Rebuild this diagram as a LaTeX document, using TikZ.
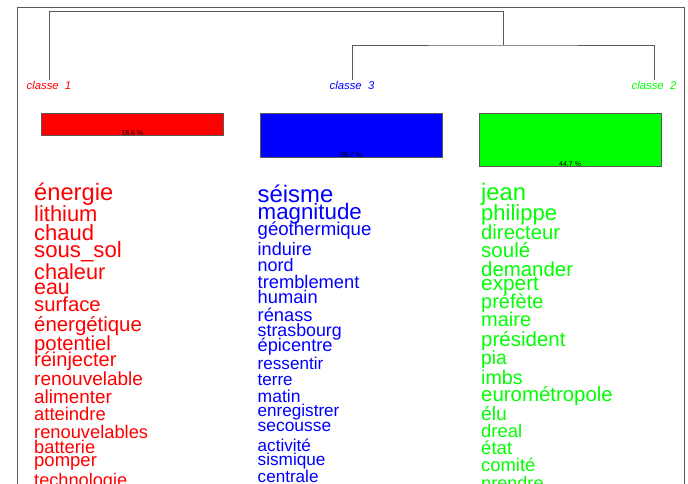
\documentclass[tikz,border=0pt]{standalone}
\usepackage{fontspec}
\setmainfont{Liberation Sans}
\usepackage{xcolor}
\usepackage{tikz}
\usetikzlibrary{positioning}
\definecolor{clred}{HTML}{FF0000}
\definecolor{clblue}{HTML}{0000FF}
\definecolor{clgreen}{HTML}{00FF00}
\newcommand{\wordsize}[1]{\fontsize{#1}{#1}\selectfont}

\begin{document}
\begin{tikzpicture}[
  x=1pt, y=-1pt,
  frame/.style={draw=black!65, line width=0.8pt},
  tree/.style={draw=black!65, line width=0.8pt},
  leaf/.style={anchor=base, inner sep=0.6pt, font=\wordsize{11.3}\itshape},
  bar/.style={draw=black!65, line width=0.7pt, anchor=north west, minimum width=182.5pt,
    inner sep=0},
  pct/.style={anchor=base, inner sep=0, font=\wordsize{7}},
  word/.style={anchor=base west, inner sep=0, font=\wordsize{#1}}
]
  \useasboundingbox (0,0) rectangle (688,483);
  \clip (0,0) rectangle (688,483);
  \draw[frame] (17,7) rectangle (684,500);

  % Dendrogram
  \node[leaf, text=clred] (c1) at (49,89) {classe\ \ 1};
  \node[leaf, text=clblue] (c3) at (352,89) {classe\ \ 3};
  \node[leaf, text=clgreen] (c2) at (654,89) {classe\ \ 2};
  \coordinate (root) at (503,11);
  \coordinate (sub) at (503,45);
  \draw[tree] (c1.north) |- (root) -- (sub);
  \draw[tree] (c3.north) |- (sub) -| (c2.north);

  % Bars
  \node[bar, fill=clred, minimum height=22pt] (bar1) at (40.7,113) {};
  \node[bar, fill=clblue, minimum height=44pt] (bar3) at (259.5,113) {};
  \node[bar, fill=clgreen, minimum height=53pt] (bar2) at (478.5,113) {};
  \node[pct] (p1) at ([yshift=0.3pt]bar1.south) {18.6 \%};
  \node[pct] (p3) at ([yshift=0.3pt]bar3.south) {36.7 \%};
  \node[pct] (p2) at ([yshift=0.3pt]bar2.south) {44.7 \%};

  % Words, classe 1
  \node[word=23.7, text=clred] (r1) at (34,200.7) {énergie};
  \node[word=21.9, text=clred] (r2) at (34,221.7) {lithium};
  \node[word=22.0, text=clred] (r3) at (34,240.7) {chaud};
  \node[word=22.2, text=clred] (r4) at (34,257.3) {sous\_sol};
  \node[word=21.7, text=clred] (r5) at (34,279) {chaleur};
  \node[word=21.4, text=clred] (r6) at (34,294) {eau};
  \node[word=20.3, text=clred] (r7) at (34,311.7) {surface};
  \node[word=20.4, text=clred] (r8) at (34,331) {énergétique};
  \node[word=20.3, text=clred] (r9) at (34,350.7) {potentiel};
  \node[word=20.0, text=clred] (r10) at (34,366.7) {réinjecter};
  \node[word=19.0, text=clred] (r11) at (34,385.7) {renouvelable};
  \node[word=18.9, text=clred] (r12) at (34,403.3) {alimenter};
  \node[word=18.4, text=clred] (r13) at (34,420) {atteindre};
  \node[word=18.3, text=clred] (r14) at (34,438.3) {renouvelables};
  \node[word=18.3, text=clred] (r15) at (34,453) {batterie};
  \node[word=18.5, text=clred] (r16) at (34,466.7) {pomper};
  \node[word=18.2, text=clred] (r17) at (34,486) {technologie};

  % Words, classe 3
  \node[word=23.9, text=clblue] (b1) at (257.5,202.3) {séisme};
  \node[word=22.3, text=clblue] (b2) at (257.5,219.3) {magnitude};
  \node[word=18.6, text=clblue] (b3) at (257.5,235) {géothermique};
  \node[word=18.1, text=clblue] (b4) at (257.5,255) {induire};
  \node[word=18.0, text=clblue] (b5) at (257.5,271.7) {nord};
  \node[word=18.3, text=clblue] (b6) at (257.5,288.3) {tremblement};
  \node[word=18.3, text=clblue] (b7) at (257.5,303.3) {humain};
  \node[word=18.3, text=clblue] (b8) at (257.5,321.7) {rénass};
  \node[word=17.8, text=clblue] (b9) at (257.5,336) {strasbourg};
  \node[word=18.2, text=clblue] (b10) at (257.5,351.7) {épicentre};
  \node[word=17.1, text=clblue] (b11) at (257.5,369.3) {ressentir};
  \node[word=17.0, text=clblue] (b12) at (257.5,385) {terre};
  \node[word=17.5, text=clblue] (b13) at (257.5,402.3) {matin};
  \node[word=17.1, text=clblue] (b14) at (257.5,416.7) {enregistrer};
  \node[word=17.4, text=clblue] (b15) at (257.5,431.7) {secousse};
  \node[word=17.1, text=clblue] (b16) at (257.5,451.7) {activité};
  \node[word=17.2, text=clblue] (b17) at (257.5,465) {sismique};
  \node[word=17.1, text=clblue] (b18) at (257.5,482) {centrale};

  % Words, classe 2
  \node[word=23.8, text=clgreen] (g1) at (481,200) {jean};
  \node[word=22.0, text=clgreen] (g2) at (481,220) {philippe};
  \node[word=20.3, text=clgreen] (g3) at (481,239) {directeur};
  \node[word=20.5, text=clgreen] (g4) at (481,257.3) {soulé};
  \node[word=20.4, text=clgreen] (g5) at (481,276) {demander};
  \node[word=20.8, text=clgreen] (g6) at (481,290.7) {expert};
  \node[word=20.0, text=clgreen] (g7) at (481,308.3) {préfète};
  \node[word=20.0, text=clgreen] (g8) at (481,326.7) {maire};
  \node[word=20.5, text=clgreen] (g9) at (481,346) {président};
  \node[word=19.3, text=clgreen] (g10) at (481,364.3) {pia};
  \node[word=19.7, text=clgreen] (g11) at (481,384.3) {imbs};
  \node[word=20.4, text=clgreen] (g12) at (481,401) {eurométropole};
  \node[word=19.3, text=clgreen] (g13) at (481,420) {élu};
  \node[word=18.4, text=clgreen] (g14) at (481,437.7) {dreal};
  \node[word=18.6, text=clgreen] (g15) at (481,454.3) {état};
  \node[word=18.4, text=clgreen] (g16) at (481,471) {comité};
  \node[word=18.1, text=clgreen] (g17) at (481,489) {prendre};
\end{tikzpicture}
\end{document}
